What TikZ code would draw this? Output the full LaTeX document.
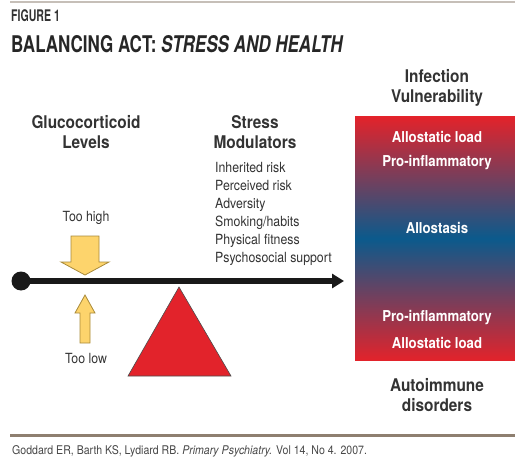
\documentclass[tikz,border=0pt]{standalone}
\usepackage{fontspec}
\setmainfont{TeX Gyre Heros}[FakeStretch=0.88]
\newfontfamily\titlefont{TeX Gyre Heros}[FakeStretch=0.74]
\newfontfamily\figfont{TeX Gyre Heros}[FakeStretch=0.66]
\usetikzlibrary{arrows.meta}

\definecolor{inkgrey}{HTML}{333333}
\definecolor{rulebrown}{HTML}{8E7F70}
\definecolor{arrowyellow}{HTML}{FDD46C}
\definecolor{arrowedge}{HTML}{A88A3A}
\definecolor{loadred}{HTML}{E2232B}
\definecolor{stasisblue}{HTML}{0B5A8C}

\begin{document}
\begin{tikzpicture}[x=1pt,y=-1pt,
    heading/.style={font=\fontsize{17.5}{20}\selectfont\bfseries, text=inkgrey, align=center},
    small/.style={font=\fontsize{14}{18}\selectfont, text=inkgrey},
    boxtext/.style={font=\fontsize{15}{16}\selectfont\bfseries, text=white},
    yellowarrow/.style={fill=arrowyellow, draw=arrowedge, line width=0.8pt}]
\useasboundingbox (0,0) rectangle (515,460);

% top and bottom rules
\draw[rulebrown!50, line width=2pt] (10,2) -- (515,2);
\draw[rulebrown, line width=3pt] (10,435) -- (515,435);

% titles
\node[anchor=west, font=\fontsize{16}{18}\selectfont\figfont\bfseries, text=inkgrey, inner sep=0pt] (fig) at (11,16) {FIGURE 1};
\node[anchor=west, font=\fontsize{23}{26}\selectfont\titlefont\bfseries, text=black!85, inner sep=0pt] (title) at (11,44) {BALANCING ACT: \textit{STRESS AND HEALTH}};

% column headings
\node[heading] (gluco) at (86,132) {Glucocorticoid\\Levels};
\node[heading] (stress) at (255,132) {Stress\\Modulators};
\node[heading] (infect) at (437,88) {Infection\\Vulnerability};
\node[heading] (autoimm) at (437,395) {Autoimmune\\disorders};

% modulators
\node[small, anchor=north west, align=left, inner sep=0pt] (mods) at (215,162) {Inherited risk\\Perceived risk\\Adversity\\Smoking/habits\\Physical fitness\\Psychosocial support};

% gradient bar
\shade[top color=loadred, bottom color=loadred, middle color=stasisblue] (355,117) rectangle (515,360);
\node[boxtext] (load1) at (437,137) {Allostatic load};
\node[boxtext] (pro1) at (437,163) {Pro-inflammatory};
\node[boxtext] (stasis) at (437,228) {Allostasis};
\node[boxtext] (pro2) at (437,318) {Pro-inflammatory};
\node[boxtext] (load2) at (437,343) {Allostatic load};

% fulcrum
\draw[fill=loadred, draw=black!70, line width=0.6pt] (179,287) -- (231,376) -- (128,376) -- cycle;

% beam
\node[circle, fill=black!90, minimum size=19pt, inner sep=0pt] (pivot) at (21,281) {};
\coordinate (tip) at (344,281);
\draw[black!90, line width=6pt, -{Triangle[length=12pt,width=14pt]}] (pivot.center) -- (tip);

% glucocorticoid arrows
\node[small] (high) at (86,218) {Too high};
\draw[yellowarrow] (71,236) -- (99,236) -- (99,262) -- (109,262) -- (85,275) -- (61,262) -- (71,262) -- cycle;
\draw[yellowarrow] (80,343) -- (90,343) -- (90,313) -- (95,313) -- (85,295) -- (75,313) -- (80,313) -- cycle;
\node[small] (low) at (86,359) {Too low};

% source
\node[anchor=west, font=\fontsize{12}{14}\selectfont, text=inkgrey!90, inner sep=0pt] (cite) at (12,451) {Goddard ER, Barth KS, Lydiard RB. \textit{Primary Psychiatry.} Vol 14, No 4. 2007.};
\end{tikzpicture}
\end{document}
